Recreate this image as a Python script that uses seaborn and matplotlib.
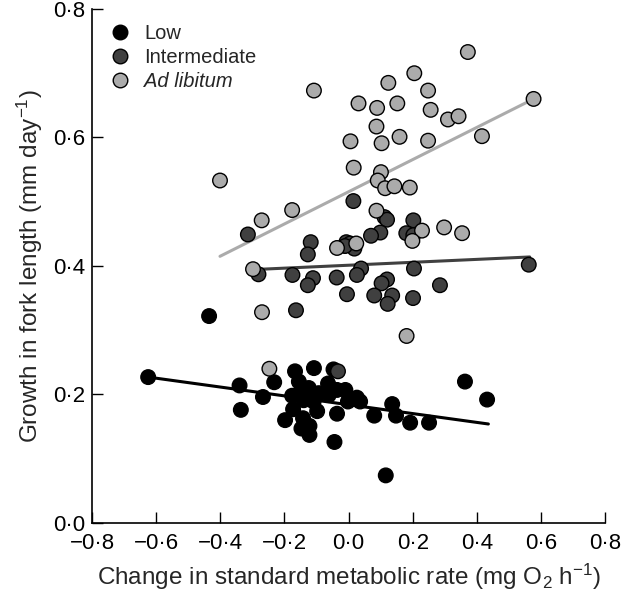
import numpy as np
import pandas as pd
import matplotlib
matplotlib.use('Agg')
import matplotlib.pyplot as plt
from matplotlib.ticker import FuncFormatter, MultipleLocator
import seaborn as sns

# Data
low_x = [-0.625, -0.340, -0.336, -0.267, -0.232, -0.167, -0.108, -0.047, -0.155, -0.124,
         -0.147, -0.064, -0.036, -0.010, -0.176, -0.140, -0.109, -0.093, -0.062, 0.026,
         0.036, -0.002, -0.173, -0.098, -0.036, -0.198, -0.142, -0.122, -0.147, -0.122,
         -0.044, 0.080, 0.136, 0.148, 0.192, 0.251, 0.116, 0.363, 0.432, -0.435]
low_y = [0.227, 0.214, 0.176, 0.196, 0.219, 0.236, 0.241, 0.239, 0.220, 0.210,
         0.207, 0.217, 0.207, 0.207, 0.198, 0.191, 0.189, 0.202, 0.199, 0.195,
         0.189, 0.189, 0.177, 0.174, 0.170, 0.160, 0.163, 0.151, 0.147, 0.137,
         0.126, 0.167, 0.185, 0.167, 0.156, 0.156, 0.074, 0.220, 0.192, 0.322]

int_x = [0.015, -0.314, -0.118, -0.127, 0.112, 0.120, 0.202, 0.099, 0.070, 0.180,
         0.202, -0.007, 0.005, 0.018, -0.011, -0.281, -0.175, -0.111, -0.127, -0.037,
         0.039, 0.026, 0.204, 0.120, 0.103, 0.285, 0.562, -0.005, 0.080, 0.136,
         0.122, 0.201, -0.164, -0.033]
int_y = [0.501, 0.449, 0.437, 0.418, 0.476, 0.472, 0.471, 0.452, 0.447, 0.451,
         0.448, 0.437, 0.435, 0.427, 0.431, 0.387, 0.386, 0.381, 0.370, 0.382,
         0.396, 0.386, 0.396, 0.379, 0.373, 0.370, 0.402, 0.356, 0.354, 0.354,
         0.341, 0.350, 0.331, 0.236]

adl_x = [0.372, 0.205, 0.124, 0.248, -0.108, 0.031, 0.089, 0.152, 0.256, 0.310,
         0.343, 0.577, 0.087, 0.006, 0.103, 0.159, 0.248, 0.416, 0.016, 0.101,
         0.091, 0.114, 0.143, 0.191, -0.401, -0.176, -0.271, 0.087, 0.298, 0.354,
         0.229, 0.199, -0.036, 0.024, -0.298, -0.270, 0.181, -0.247]
adl_y = [0.733, 0.700, 0.685, 0.673, 0.673, 0.653, 0.646, 0.653, 0.643, 0.628,
         0.633, 0.660, 0.617, 0.594, 0.591, 0.601, 0.595, 0.602, 0.553, 0.546,
         0.533, 0.521, 0.524, 0.522, 0.533, 0.487, 0.471, 0.486, 0.460, 0.451,
         0.455, 0.439, 0.428, 0.435, 0.395, 0.328, 0.291, 0.240]

# Fitted lines (end points)
low_line_x = [-0.625, 0.436]
low_line_y = [0.227, 0.154]
int_line_x = [-0.269, 0.565]
int_line_y = [0.395, 0.414]
adl_line_x = [-0.401, 0.577]
adl_line_y = [0.415, 0.660]

groups = ['Low', 'Intermediate', 'Ad libitum']
colors = {'Low': '#000000', 'Intermediate': '#404040', 'Ad libitum': '#ababab'}

pts = pd.concat([
    pd.DataFrame({'x': low_x, 'y': low_y, 'group': 'Low'}),
    pd.DataFrame({'x': int_x, 'y': int_y, 'group': 'Intermediate'}),
    pd.DataFrame({'x': adl_x, 'y': adl_y, 'group': 'Ad libitum'}),
], ignore_index=True)
lines = pd.concat([
    pd.DataFrame({'x': low_line_x, 'y': low_line_y, 'group': 'Low'}),
    pd.DataFrame({'x': int_line_x, 'y': int_line_y, 'group': 'Intermediate'}),
    pd.DataFrame({'x': adl_line_x, 'y': adl_line_y, 'group': 'Ad libitum'}),
], ignore_index=True)

sns.set_style('ticks')
plt.rcParams['font.family'] = ['Liberation Sans', 'DejaVu Sans']
plt.rcParams['mathtext.fontset'] = 'custom'
plt.rcParams['mathtext.rm'] = 'Liberation Sans'
plt.rcParams['mathtext.it'] = 'Liberation Sans:italic'

fig = plt.figure(figsize=(6.22, 5.99), dpi=100)
ax = fig.add_axes([0.148, 0.127, 0.8248, 0.858])

sns.lineplot(data=lines, x='x', y='y', hue='group', hue_order=groups, palette=colors,
             linewidth=2.2, legend=False, ax=ax, zorder=1)
sns.scatterplot(data=pts, x='x', y='y', hue='group', hue_order=groups, palette=colors,
                s=110, edgecolor='black', linewidth=1.0, alpha=1, ax=ax, zorder=3)

ax.set_xlim(-0.8, 0.8)
ax.set_ylim(0, 0.8)
ax.xaxis.set_major_locator(MultipleLocator(0.2))
ax.yaxis.set_major_locator(MultipleLocator(0.2))
fmt = FuncFormatter(lambda v, p: f"{v:.1f}".replace('-0.0', '0.0').replace('.', '·').replace('-', '−'))
ax.xaxis.set_major_formatter(fmt)
ax.yaxis.set_major_formatter(fmt)
ax.tick_params(direction='in', length=8, width=1, labelsize=16, colors='black')
ax.tick_params(axis='x', pad=7)
ax.tick_params(axis='y', pad=5)
for s in ['left', 'bottom']:
    ax.spines[s].set_linewidth(1.2)
    ax.spines[s].set_color('black')
sns.despine(ax=ax)

ax.set_xlabel('Change in standard metabolic rate (mg O$_2$ h$^{-1}$)', fontsize=17.5, labelpad=6)
ax.set_ylabel('Growth in fork length (mm day$^{-1}$)', fontsize=17.5, labelpad=6)

leg = ax.legend(loc='upper left', bbox_to_anchor=(-0.012, 0.998), frameon=False, fontsize=14.5,
                handletextpad=0.2, labelspacing=0.25, borderaxespad=0.3, markerscale=1.0)
for t in leg.get_texts():
    if t.get_text() == 'Ad libitum':
        t.set_style('italic')

fig.savefig('out.png', dpi=100)
